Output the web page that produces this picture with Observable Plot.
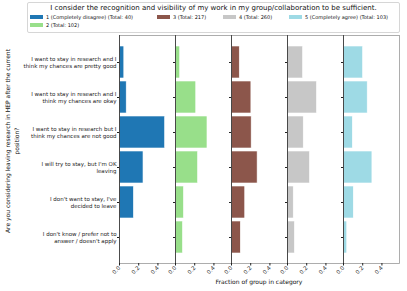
<!DOCTYPE html>
<html><head><meta charset="utf-8">
<script src="https://cdn.jsdelivr.net/npm/d3@7"></script>
<script src="https://cdn.jsdelivr.net/npm/@observablehq/plot@0.6"></script>
<style>
body{margin:0;background:#fff}
#fig{position:relative;width:407px;height:291px;font-family:"DejaVu Sans",sans-serif;color:#222;overflow:hidden;background:#fff}
#fig svg{position:absolute;left:0;top:0}
#legend{position:absolute;left:27px;top:2px;width:371px;height:29px;border:1px solid #d6d6d6;border-radius:2px;background:#fff;box-sizing:content-box}
#ltitle{position:absolute;left:0;right:0;top:1px;height:9px;line-height:9px;font-size:7px;text-align:center;white-space:nowrap;color:#111}
#lgrid{position:absolute;left:2px;top:10px;display:grid;grid-template-columns:127px 66px 66px 110px;grid-template-rows:8px 8px}
.li{display:flex;align-items:center;font-size:5px;white-space:nowrap;color:#111}
.sw{width:13px;height:4px;margin-right:3px;flex:none}
#xlab{position:absolute;left:159px;width:200px;top:277px;text-align:center;font-size:6px;line-height:9px;color:#111}
#ylab{position:absolute;left:12px;top:141px;width:260px;transform:translate(-50%,-50%) rotate(-90deg);text-align:center;font-size:6px;line-height:9.4px;white-space:pre;color:#111}
</style></head><body><div id="fig"></div>
<script>
const answers = [
  "I want to stay in research and I\nthink my chances are pretty good",
  "I want to stay in research and I\nthink my chances are okay",
  "I want to stay in research but I\nthink my chances are not good",
  "I will try to stay, but I'm OK\nleaving",
  "I don't want to stay, I've\ndecided to leave",
  "I don't know / prefer not to\nanswer / doesn't apply"
];
const groups = ["1", "2", "3", "4", "5"];
const groupLabels = [
  "1 (Completely disagree) (Total: 40)",
  "2 (Total: 102)",
  "3 (Total: 217)",
  "4 (Total: 260)",
  "5 (Completely agree) (Total: 103)"
];
const groupColors = ["#1f77b4", "#98df8a", "#8c564b", "#c7c7c7", "#9edae5"];
const frac1 = [0.050, 0.075, 0.475, 0.250, 0.150, 0.000];
const frac2 = [0.049, 0.216, 0.333, 0.235, 0.088, 0.078];
const frac3 = [0.086, 0.207, 0.210, 0.272, 0.143, 0.097];
const frac4 = [0.162, 0.307, 0.169, 0.234, 0.065, 0.077];
const frac5 = [0.204, 0.252, 0.097, 0.301, 0.107, 0.039];
const xTicks = [0, 0.2, 0.4];
const xMax = 0.583;
const title = "I consider the recognition and visibility of my work in my group/collaboration to be sufficient.";
const xLabel = "Fraction of group in category";
const yLabel = "Are you considering leaving research in HEP after the current\nposition?";

const fracs = [frac1, frac2, frac3, frac4, frac5];
const rows = [];
groups.forEach((g, gi) => answers.forEach((a, ai) => rows.push({g, a, v: fracs[gi][ai]})));

const plot = Plot.plot({
  width: 407, height: 291,
  marginTop: 35, marginBottom: 28, marginLeft: 118, marginRight: 7,
  style: {fontFamily: "DejaVu Sans", fontSize: "5.5px", color: "#222", background: "transparent"},
  fx: {domain: groups, padding: 0, axis: null, label: null},
  x: {domain: [0, xMax], label: null},
  y: {domain: answers, paddingInner: 0.1, paddingOuter: 0.23, label: null},
  color: {domain: groups, range: groupColors},
  marks: [
    Plot.barX(rows, {fx: "g", y: "a", x: "v", fill: "g", stroke: "white", strokeWidth: 0.6}),
    Plot.frame({stroke: "#999", strokeWidth: 0.8}),
    Plot.ruleX([0], {stroke: "#333", strokeWidth: 0.8}),
    Plot.axisY({tickSize: 2, tickPadding: 1, lineHeight: 1.15, label: null}),
    Plot.axisY({facetAnchor: null, tickSize: 2, tickFormat: () => "", label: null}),
    Plot.axisX({ticks: xTicks, tickFormat: ".1f", tickRotate: -45, tickSize: 2.5, tickPadding: 1, label: null})
  ]
});

const fig = document.getElementById("fig");
fig.appendChild(plot);

const legend = document.createElement("div");
legend.id = "legend";
const lt = document.createElement("div");
lt.id = "ltitle"; lt.textContent = title;
legend.appendChild(lt);
const grid = document.createElement("div");
grid.id = "lgrid";
const cols = [1, 1, 2, 3, 4], rws = [1, 2, 1, 1, 1];
groupLabels.forEach((lab, i) => {
  const it = document.createElement("div");
  it.className = "li";
  it.style.gridColumn = cols[i]; it.style.gridRow = rws[i];
  const sw = document.createElement("span");
  sw.className = "sw"; sw.style.background = groupColors[i];
  const tx = document.createElement("span");
  tx.textContent = lab;
  it.appendChild(sw); it.appendChild(tx);
  grid.appendChild(it);
});
legend.appendChild(grid);
fig.appendChild(legend);

const xl = document.createElement("div");
xl.id = "xlab"; xl.textContent = xLabel;
fig.appendChild(xl);
const yl = document.createElement("div");
yl.id = "ylab"; yl.textContent = yLabel;
fig.appendChild(yl);
</script>
</body></html>
